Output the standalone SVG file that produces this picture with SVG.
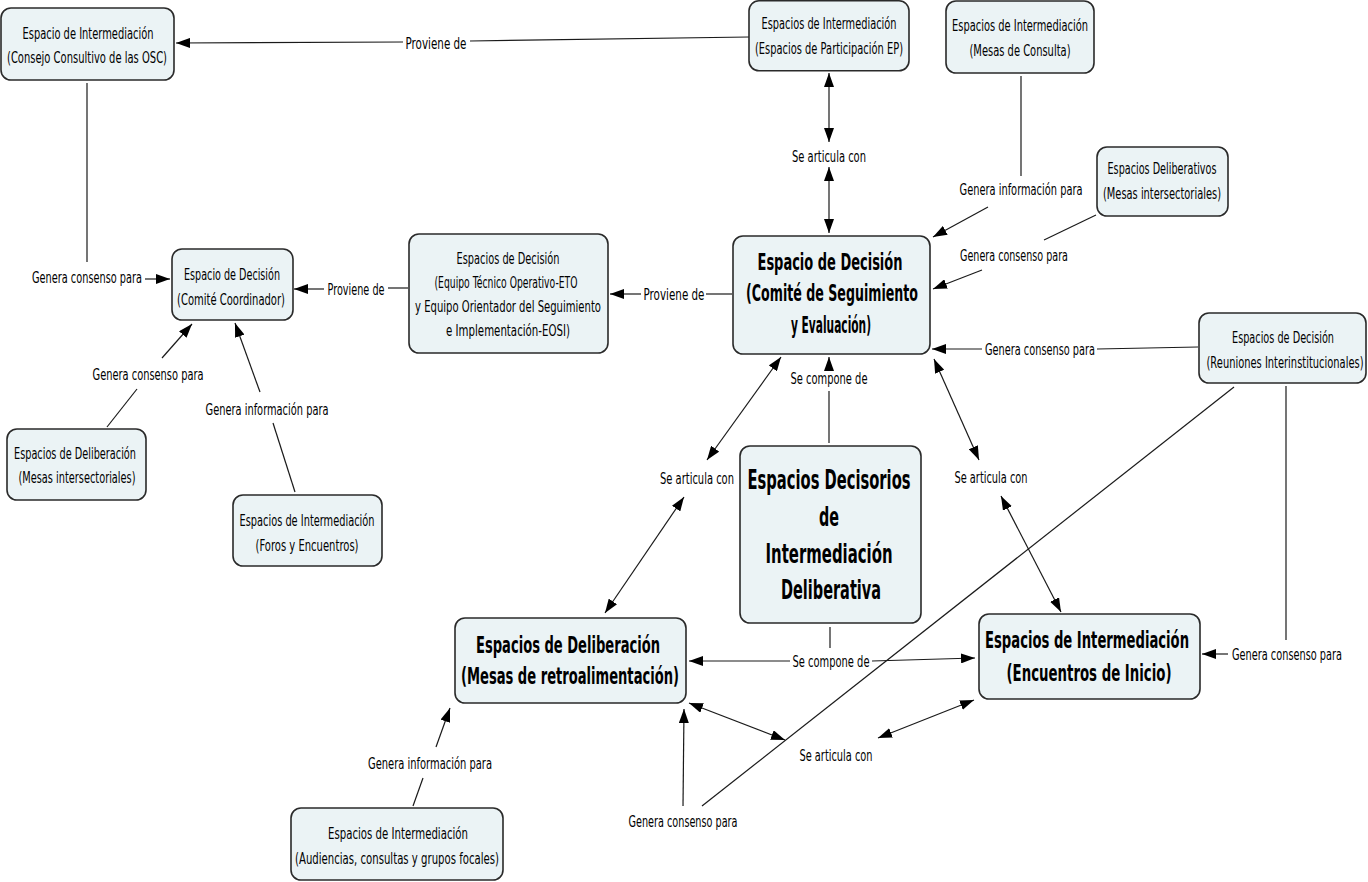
<svg xmlns="http://www.w3.org/2000/svg" width="1368" height="882" viewBox="0 0 1368 882">
<style>
.n{fill:#ebf3f5;stroke:#2a2a2a;stroke-width:1.6}
.t{font-family:"DejaVu Sans","Liberation Sans",sans-serif;font-size:16px;fill:#000;text-anchor:middle}
.b{font-family:"DejaVu Sans","Liberation Sans",sans-serif;font-weight:bold;font-size:23px;fill:#000;text-anchor:middle}
.k{font-size:26px}
.l{stroke:#1a1a1a;stroke-width:1.2;fill:none}
.a{stroke:#1a1a1a;stroke-width:1.2;fill:none;marker-end:url(#ah)}
.d{stroke:#1a1a1a;stroke-width:1.2;fill:none;marker-end:url(#ah);marker-start:url(#ah)}
</style>
<defs>
<marker id="ah" viewBox="0 0 14 10" refX="14" refY="5" markerWidth="14" markerHeight="10" markerUnits="userSpaceOnUse" orient="auto-start-reverse">
<path d="M0,0 L14,5 L0,10 Z" fill="#000"/>
</marker>
</defs>
<rect width="1368" height="882" fill="#fff"/>

<g id="connectors">
<line class="l" x1="749" y1="37" x2="470" y2="41"/>
<text class="t" transform="matrix(.61 0 0 1 436 49)" textLength="100" lengthAdjust="spacingAndGlyphs">Proviene de</text>
<line class="a" x1="403" y1="42" x2="176" y2="43"/>

<line class="l" x1="87" y1="83" x2="87" y2="262"/>
<text class="t" transform="matrix(.61 0 0 1 87 283)" textLength="180.3" lengthAdjust="spacingAndGlyphs">Genera consenso para</text>
<line class="a" x1="145" y1="279" x2="170" y2="279"/>

<line class="l" x1="408" y1="288" x2="388" y2="288"/>
<text class="t" transform="matrix(.61 0 0 1 356 295)" textLength="93.4" lengthAdjust="spacingAndGlyphs">Proviene de</text>
<line class="a" x1="324" y1="289" x2="294" y2="289"/>

<line class="l" x1="732" y1="294" x2="706" y2="294"/>
<text class="t" transform="matrix(.61 0 0 1 674 300)" textLength="100" lengthAdjust="spacingAndGlyphs">Proviene de</text>
<line class="a" x1="641" y1="294" x2="610" y2="294"/>

<line class="d" x1="829" y1="142" x2="829" y2="73"/>
<text class="t" transform="matrix(.61 0 0 1 829 162)" textLength="121.3" lengthAdjust="spacingAndGlyphs">Se articula con</text>
<line class="d" x1="829" y1="167" x2="829" y2="233"/>

<line class="l" x1="1021" y1="76" x2="1021" y2="176"/>
<text class="t" transform="matrix(.61 0 0 1 1021 195)" textLength="201.6" lengthAdjust="spacingAndGlyphs">Genera información para</text>
<line class="a" x1="988" y1="207" x2="933" y2="237"/>

<line class="l" x1="1096" y1="215" x2="1044" y2="240"/>
<text class="t" transform="matrix(.61 0 0 1 1014 261)" textLength="177" lengthAdjust="spacingAndGlyphs">Genera consenso para</text>
<line class="a" x1="982" y1="270" x2="933" y2="289"/>

<line class="l" x1="1198" y1="347" x2="1097" y2="349"/>
<text class="t" transform="matrix(.61 0 0 1 1040 355)" textLength="180.3" lengthAdjust="spacingAndGlyphs">Genera consenso para</text>
<line class="a" x1="982" y1="349" x2="932" y2="349"/>

<line class="d" x1="934" y1="359" x2="979" y2="460"/>
<text class="t" transform="matrix(.61 0 0 1 991 483)" textLength="119.7" lengthAdjust="spacingAndGlyphs">Se articula con</text>
<line class="d" x1="1001" y1="496" x2="1061" y2="612"/>

<line class="d" x1="781" y1="357" x2="707" y2="460"/>
<text class="t" transform="matrix(.61 0 0 1 697 484)" textLength="121.3" lengthAdjust="spacingAndGlyphs">Se articula con</text>
<line class="d" x1="684" y1="497" x2="605" y2="613"/>

<line class="l" x1="829" y1="443" x2="829" y2="391"/>
<text class="t" transform="matrix(.61 0 0 1 829 384)" textLength="126.2" lengthAdjust="spacingAndGlyphs">Se compone de</text>
<line class="a" x1="829" y1="371" x2="829" y2="357"/>

<line class="l" x1="830" y1="627" x2="830" y2="648"/>
<text class="t" transform="matrix(.61 0 0 1 831 667)" textLength="126.2" lengthAdjust="spacingAndGlyphs">Se compone de</text>
<line class="a" x1="790" y1="661" x2="689" y2="661"/>
<line class="a" x1="872" y1="661" x2="975" y2="658"/>

<line class="d" x1="785" y1="740" x2="689" y2="703"/>
<text class="t" transform="matrix(.61 0 0 1 836 761)" textLength="119.7" lengthAdjust="spacingAndGlyphs">Se articula con</text>
<line class="d" x1="878" y1="738" x2="974" y2="700"/>

<line class="l" x1="1286" y1="386" x2="1286" y2="640"/>
<text class="t" transform="matrix(.61 0 0 1 1287 660)" textLength="180.3" lengthAdjust="spacingAndGlyphs">Genera consenso para</text>
<line class="a" x1="1228" y1="654" x2="1202" y2="654"/>

<line class="l" x1="1234" y1="387" x2="702" y2="806"/>
<text class="t" transform="matrix(.61 0 0 1 683 827)" textLength="178.7" lengthAdjust="spacingAndGlyphs">Genera consenso para</text>
<line class="a" x1="683" y1="806" x2="684" y2="709"/>

<line class="l" x1="107" y1="427" x2="137" y2="389"/>
<text class="t" transform="matrix(.61 0 0 1 148 380)" textLength="182" lengthAdjust="spacingAndGlyphs">Genera consenso para</text>
<line class="a" x1="162" y1="358" x2="192" y2="324"/>

<line class="l" x1="295" y1="492" x2="273" y2="423"/>
<text class="t" transform="matrix(.61 0 0 1 267 415)" textLength="201.6" lengthAdjust="spacingAndGlyphs">Genera información para</text>
<line class="a" x1="260" y1="392" x2="235" y2="323"/>

<line class="l" x1="413" y1="806" x2="423" y2="778"/>
<text class="t" transform="matrix(.61 0 0 1 430 769)" textLength="203.3" lengthAdjust="spacingAndGlyphs">Genera información para</text>
<line class="a" x1="436" y1="747" x2="450" y2="708"/>
</g>

<g id="nodeA">
<rect class="n" x="1" y="8" width="173" height="72" rx="10"/>
<text class="t" transform="matrix(.61 0 0 1 88 39)" textLength="214.8" lengthAdjust="spacingAndGlyphs">Espacio de Intermediación</text>
<text class="t" transform="matrix(.61 0 0 1 87 63)" textLength="262.3" lengthAdjust="spacingAndGlyphs">(Consejo Consultivo de las OSC)</text>
</g>
<g id="nodeB">
<rect class="n" x="749" y="0.8" width="160" height="70" rx="10"/>
<text class="t" transform="matrix(.61 0 0 1 829 29)" textLength="221.3" lengthAdjust="spacingAndGlyphs">Espacios de Intermediación</text>
<text class="t" transform="matrix(.61 0 0 1 829 54)" textLength="242.6" lengthAdjust="spacingAndGlyphs">(Espacios de Participación EP)</text>
</g>
<g id="nodeC">
<rect class="n" x="946" y="1" width="148" height="72" rx="10"/>
<text class="t" transform="matrix(.61 0 0 1 1020 31)" textLength="223" lengthAdjust="spacingAndGlyphs">Espacios de Intermediación</text>
<text class="t" transform="matrix(.61 0 0 1 1020 56)" textLength="165.6" lengthAdjust="spacingAndGlyphs">(Mesas de Consulta)</text>
</g>
<g id="nodeD">
<rect class="n" x="1097" y="147" width="131" height="69" rx="10"/>
<text class="t" transform="matrix(.61 0 0 1 1162 174)" textLength="178.7" lengthAdjust="spacingAndGlyphs">Espacios Deliberativos</text>
<text class="t" transform="matrix(.61 0 0 1 1162 199)" textLength="193.4" lengthAdjust="spacingAndGlyphs">(Mesas intersectoriales)</text>
</g>
<g id="nodeE">
<rect class="n" x="172" y="249" width="121" height="71" rx="10"/>
<text class="t" transform="matrix(.61 0 0 1 232 280)" textLength="157.4" lengthAdjust="spacingAndGlyphs">Espacio de Decisión</text>
<text class="t" transform="matrix(.61 0 0 1 231 305)" textLength="177" lengthAdjust="spacingAndGlyphs">(Comité Coordinador)</text>
</g>
<g id="nodeF">
<rect class="n" x="409" y="234" width="199" height="119" rx="10"/>
<text class="t" transform="matrix(.61 0 0 1 508 264)" textLength="168.9" lengthAdjust="spacingAndGlyphs">Espacios de Decisión</text>
<text class="t" transform="matrix(.61 0 0 1 506 288)" textLength="234.4" lengthAdjust="spacingAndGlyphs">(Equipo Técnico Operativo-ETO</text>
<text class="t" transform="matrix(.61 0 0 1 508 312)" textLength="304.9" lengthAdjust="spacingAndGlyphs">y Equipo Orientador del Seguimiento</text>
<text class="t" transform="matrix(.61 0 0 1 508 336)" textLength="203.3" lengthAdjust="spacingAndGlyphs">e Implementación-EOSI)</text>
</g>
<g id="nodeG">
<rect class="n" x="733" y="236" width="197" height="118" rx="10"/>
<text class="b" transform="matrix(.55 0 0 1 830 270)" textLength="263.6" lengthAdjust="spacingAndGlyphs">Espacio de Decisión</text>
<text class="b" transform="matrix(.55 0 0 1 832 301)" textLength="312.7" lengthAdjust="spacingAndGlyphs">(Comité de Seguimiento</text>
<text class="b" transform="matrix(.55 0 0 1 831 333)" textLength="145.5" lengthAdjust="spacingAndGlyphs">y Evaluación)</text>
</g>
<g id="nodeH">
<rect class="n" x="1199" y="313" width="167" height="70" rx="10"/>
<text class="t" transform="matrix(.61 0 0 1 1283 343)" textLength="167.2" lengthAdjust="spacingAndGlyphs">Espacios de Decisión</text>
<text class="t" transform="matrix(.61 0 0 1 1285 368)" textLength="257.4" lengthAdjust="spacingAndGlyphs">(Reuniones Interinstitucionales)</text>
</g>
<g id="nodeI">
<rect class="n" x="7" y="429" width="139" height="71" rx="10"/>
<text class="t" transform="matrix(.61 0 0 1 75 459)" textLength="200" lengthAdjust="spacingAndGlyphs">Espacios de Deliberación</text>
<text class="t" transform="matrix(.61 0 0 1 77 483)" textLength="191.8" lengthAdjust="spacingAndGlyphs">(Mesas intersectoriales)</text>
</g>
<g id="nodeJ">
<rect class="n" x="233" y="495" width="149" height="71" rx="10"/>
<text class="t" transform="matrix(.61 0 0 1 307 526)" textLength="221.3" lengthAdjust="spacingAndGlyphs">Espacios de Intermediación</text>
<text class="t" transform="matrix(.61 0 0 1 307 551)" textLength="168.9" lengthAdjust="spacingAndGlyphs">(Foros y Encuentros)</text>
</g>
<g id="nodeK">
<rect class="n" x="740" y="446" width="181" height="177" rx="10"/>
<text class="b k" transform="matrix(.55 0 0 1 829 489)" textLength="296.4" lengthAdjust="spacingAndGlyphs">Espacios Decisorios</text>
<text class="b k" transform="matrix(.55 0 0 1 829 526)" textLength="36.4" lengthAdjust="spacingAndGlyphs">de</text>
<text class="b k" transform="matrix(.55 0 0 1 829 563)" textLength="230.9" lengthAdjust="spacingAndGlyphs">Intermediación</text>
<text class="b k" transform="matrix(.55 0 0 1 831 599)" textLength="181.8" lengthAdjust="spacingAndGlyphs">Deliberativa</text>
</g>
<g id="nodeL">
<rect class="n" x="455" y="618" width="231" height="85" rx="10"/>
<text class="b" transform="matrix(.55 0 0 1 568 653)" textLength="334.5" lengthAdjust="spacingAndGlyphs">Espacios de Deliberación</text>
<text class="b" transform="matrix(.55 0 0 1 570 684)" textLength="396.4" lengthAdjust="spacingAndGlyphs">(Mesas de retroalimentación)</text>
</g>
<g id="nodeM">
<rect class="n" x="979" y="614" width="221" height="85" rx="10"/>
<text class="b" transform="matrix(.55 0 0 1 1087 648)" textLength="370.9" lengthAdjust="spacingAndGlyphs">Espacios de Intermediación</text>
<text class="b" transform="matrix(.55 0 0 1 1089 681)" textLength="300" lengthAdjust="spacingAndGlyphs">(Encuentros de Inicio)</text>
</g>
<g id="nodeN">
<rect class="n" x="291" y="808" width="212" height="72" rx="10"/>
<text class="t" transform="matrix(.61 0 0 1 398 839)" textLength="229.5" lengthAdjust="spacingAndGlyphs">Espacios de Intermediación</text>
<text class="t" transform="matrix(.61 0 0 1 397 864)" textLength="334.4" lengthAdjust="spacingAndGlyphs">(Audiencias, consultas y grupos focales)</text>
</g>
</svg>
